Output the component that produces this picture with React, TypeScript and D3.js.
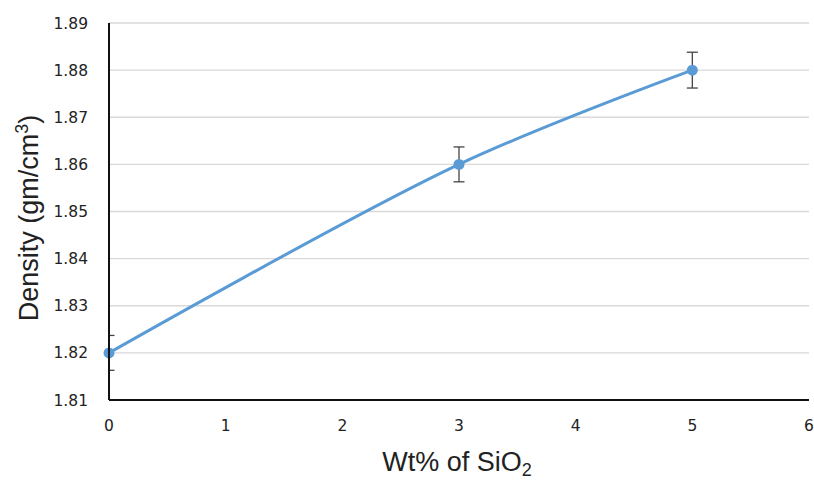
import React from 'react';
import * as d3 from 'd3';

const width = 814;
const height = 480;
const margin = { top: 23, right: 5, bottom: 80, left: 109 };

const wtPercent = [0, 3, 5];
const density = [1.82, 1.86, 1.88];
const errors = [0.0037, 0.0037, 0.0038];
const xTicks = [0, 1, 2, 3, 4, 5, 6];
const yTicks = [1.81, 1.82, 1.83, 1.84, 1.85, 1.86, 1.87, 1.88, 1.89];

const lineColor = '#5b9bd5';
const font = '"Liberation Sans", Arial, sans-serif';
const tickFont = '"DejaVu Sans", Verdana, sans-serif';

export default function App() {
  const x = d3.scaleLinear().domain([0, 6]).range([margin.left, 809]);
  const y = d3.scaleLinear().domain([1.81, 1.89]).range([400, margin.top]);

  const points = wtPercent.map((w, i) => ({ w, d: density[i], e: errors[i] }));
  const line = d3
    .line<{ w: number; d: number }>()
    .x(p => x(p.w))
    .y(p => y(p.d))
    .curve(d3.curveCatmullRom.alpha(0.5));

  const left = x(0);
  const bottom = y(1.81);

  return (
    <svg width={width} height={height} style={{ position: 'absolute', left: 0, top: 0, background: '#fff' }}>
      <defs>
        <clipPath id="plot">
          <rect x={left} y={0} width={width - left} height={bottom} />
        </clipPath>
      </defs>
      {yTicks.map(t => (
        <g key={t}>
          {t !== 1.81 && (
            <line x1={left} x2={x(6)} y1={y(t)} y2={y(t)} stroke="#d9d9d9" strokeWidth={1.3} />
          )}
          <text x={88} y={y(t)} dy="0.36em" textAnchor="end" fontFamily={tickFont} fontSize={15.5} fill="#222">
            {t.toFixed(2)}
          </text>
        </g>
      ))}
      {xTicks.map(t => (
        <text key={t} x={x(t)} y={431} textAnchor="middle" fontFamily={tickFont} fontSize={15.5} fill="#222">
          {t}
        </text>
      ))}
      <g clipPath="url(#plot)">
        {points.map(p => (
          <g key={p.w} stroke="#444" strokeWidth={1.3}>
            <line x1={x(p.w)} x2={x(p.w)} y1={y(p.d + p.e)} y2={y(p.d - p.e)} />
            <line x1={x(p.w) - 5.5} x2={x(p.w) + 5.5} y1={y(p.d + p.e)} y2={y(p.d + p.e)} />
            <line x1={x(p.w) - 5.5} x2={x(p.w) + 5.5} y1={y(p.d - p.e)} y2={y(p.d - p.e)} />
          </g>
        ))}
      </g>
      <path d={line(points) || ''} fill="none" stroke={lineColor} strokeWidth={3} />
      {points.map(p => (
        <circle key={p.w} cx={x(p.w)} cy={y(p.d)} r={5.5} fill={lineColor} />
      ))}
      <line x1={left} x2={left} y1={y(1.89)} y2={bottom} stroke="#111" strokeWidth={2} />
      <line x1={left} x2={x(6)} y1={bottom} y2={bottom} stroke="#111" strokeWidth={2} />
      <text
        transform={`translate(38, 218) rotate(-90)`}
        textAnchor="middle"
        fontFamily={font}
        fontSize={27}
        fill="#222"
      >
        Density (gm/cm<tspan dy="-10" fontSize={18}>3</tspan>
        <tspan dy="10">)</tspan>
      </text>
      <text x={457} y={471} textAnchor="middle" fontFamily={font} fontSize={27} fill="#222">
        Wt% of SiO<tspan dy="5" fontSize={18}>2</tspan>
      </text>
    </svg>
  );
}
